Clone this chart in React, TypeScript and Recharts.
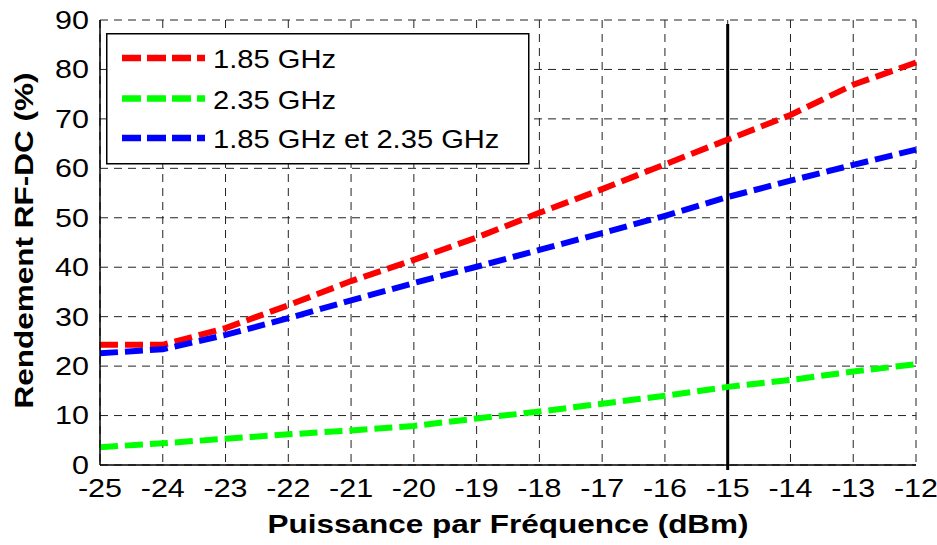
import React from "react";
import {
  LineChart,
  Line,
  XAxis,
  YAxis,
  CartesianGrid,
  ReferenceLine,
  Legend,
} from "recharts";

const powers = [-25, -24, -23, -22, -21, -20, -19, -18, -17, -16, -15, -14, -13, -12];
const eff185 = [24.3, 24.3, 27.7, 32.3, 37.2, 41.5, 46, 51, 55.8, 60.8, 65.8, 70.8, 76.9, 81.4];
const eff235 = [3.6, 4.4, 5.3, 6.2, 7.0, 7.9, 9.4, 10.8, 12.4, 14.0, 15.8, 17.2, 18.9, 20.4];
const effBoth = [22.6, 23.4, 26.3, 29.7, 33.3, 36.8, 40.1, 43.5, 46.9, 50.4, 54.2, 57.5, 60.7, 63.8];
const xTicks = [-25, -24, -23, -22, -21, -20, -19, -18, -17, -16, -15, -14, -13, -12];
const yTicks = [0, 10, 20, 30, 40, 50, 60, 70, 80, 90];
const seriesNames = ["1.85 GHz", "2.35 GHz", "1.85 GHz et 2.35 GHz"];
const seriesColors = ["#ff0000", "#00ff00", "#0000ff"];
const xTitle = "Puissance par Fréquence (dBm)";
const yTitle = "Rendement RF-DC (%)";
const markerX = -15;
const markerY = [-1, 89.2];

const data = powers.map((p, i) => ({
  p,
  a: eff185[i],
  b: eff235[i],
  c: effBoth[i],
}));

const FONT = "'Liberation Sans', Arial, sans-serif";
const TICK_SIZE = 25;
const STRETCH = 1.22;

const XTick = (props: any) => {
  const { x, y, payload } = props;
  return (
    <g transform={`translate(${x},${y})`}>
      <text
        transform={`scale(${STRETCH},1)`}
        textAnchor="middle"
        dy="0.71em"
        fontSize={TICK_SIZE}
        fontFamily={FONT}
        fill="#000"
      >
        {payload.value}
      </text>
    </g>
  );
};

const YTick = (props: any) => {
  const { x, y, payload } = props;
  return (
    <g transform={`translate(${x},${y})`}>
      <text
        transform={`scale(${STRETCH},1)`}
        textAnchor="end"
        dy="0.355em"
        fontSize={TICK_SIZE}
        fontFamily={FONT}
        fill="#000"
      >
        {payload.value}
      </text>
    </g>
  );
};

const XTitle = (props: any) => {
  const vb = props.viewBox || {};
  const cx = vb.x + vb.width / 2;
  return (
    <g transform={`translate(${cx},533)`}>
      <text
        transform="scale(1.26,1)"
        textAnchor="middle"
        fontSize={25}
        fontWeight="bold"
        fontFamily={FONT}
        fill="#000"
      >
        {xTitle}
      </text>
    </g>
  );
};

const YTitle = (props: any) => {
  const vb = props.viewBox || {};
  const cy = vb.y + vb.height / 2 - 2;
  return (
    <g transform={`translate(33,${cy}) rotate(-90)`}>
      <text
        transform="scale(1.26,1)"
        textAnchor="middle"
        fontSize={25}
        fontWeight="bold"
        fontFamily={FONT}
        fill="#000"
      >
        {yTitle}
      </text>
    </g>
  );
};

const LegendBox = (props: any) => {
  const payload = [...(props.payload || [])].sort(
    (a: any, b: any) => seriesNames.indexOf(a.value) - seriesNames.indexOf(b.value)
  );
  return (
    <svg width={424} height={132} style={{ display: "block" }}>
      <rect x={0.75} y={0.75} width={422} height={130} fill="#fff" stroke="#000" strokeWidth={1.5} />
      {payload.map((e: any, i: number) => {
        const cy = [25, 65.5, 105][i];
        return (
          <g key={i}>
            <line
              x1={16}
              x2={99}
              y1={cy}
              y2={cy}
              stroke={e.color}
              strokeWidth={6.5}
              strokeDasharray="19 6"
            />
            <g transform={`translate(107,${cy + 10})`}>
              <text transform="scale(1.12,1)" fontSize={26} fontFamily={FONT} fill="#000">
                {e.value}
              </text>
            </g>
          </g>
        );
      })}
    </svg>
  );
};

export default function App() {
  const keys = ["a", "b", "c"];
  return (
    <div
      style={{
        position: "absolute",
        left: 0,
        top: 0,
        width: 937,
        height: 545,
        background: "#fff",
        fontFamily: FONT,
      }}
    >
      <LineChart
        width={937}
        height={545}
        data={data}
        margin={{ top: 20, right: 21, left: 0, bottom: 0 }}
      >
        <CartesianGrid
          stroke="#222"
          strokeDasharray="8 6"
          strokeWidth={1}
          verticalValues={xTicks}
          horizontalValues={yTicks}
        />
        <XAxis
          dataKey="p"
          type="number"
          domain={[-25, -12]}
          ticks={xTicks}
          interval={0}
          height={80}
          tickLine={false}
          tickSize={6}
          tickMargin={8}
          axisLine={{ stroke: "#000", strokeWidth: 1.5 }}
          tick={<XTick />}
          label={{ content: <XTitle /> }}
        />
        <XAxis
          xAxisId="top"
          orientation="top"
          dataKey="p"
          type="number"
          domain={[-25, -12]}
          height={0}
          tick={false}
          tickLine={false}
          axisLine={{ stroke: "#000", strokeWidth: 1.5 }}
        />
        <YAxis
          type="number"
          domain={[0, 90]}
          ticks={yTicks}
          interval={0}
          width={100}
          tickLine={false}
          tickSize={6}
          tickMargin={5}
          axisLine={{ stroke: "#000", strokeWidth: 1.5 }}
          tick={<YTick />}
          label={{ content: <YTitle /> }}
        />
        <YAxis
          yAxisId="right"
          orientation="right"
          domain={[0, 90]}
          width={0}
          tick={false}
          tickLine={false}
          axisLine={{ stroke: "#000", strokeWidth: 1.5 }}
        />
        <ReferenceLine
          segment={[
            { x: markerX, y: markerY[0] },
            { x: markerX, y: markerY[1] },
          ]}
          stroke="#000"
          strokeWidth={3}
          ifOverflow="visible"
        />
        {keys.map((k, i) => (
          <Line
            key={k}
            dataKey={k}
            name={seriesNames[i]}
            type="linear"
            stroke={seriesColors[i]}
            strokeWidth={6}
            strokeDasharray="18 7"
            dot={false}
            activeDot={false}
            isAnimationActive={false}
          />
        ))}
        <Legend
          layout="vertical"
          align="center"
          verticalAlign="middle"
          content={<LegendBox />}
          wrapperStyle={{ left: 106, top: 33, width: 424, height: 132 }}
        />
      </LineChart>
    </div>
  );
}
